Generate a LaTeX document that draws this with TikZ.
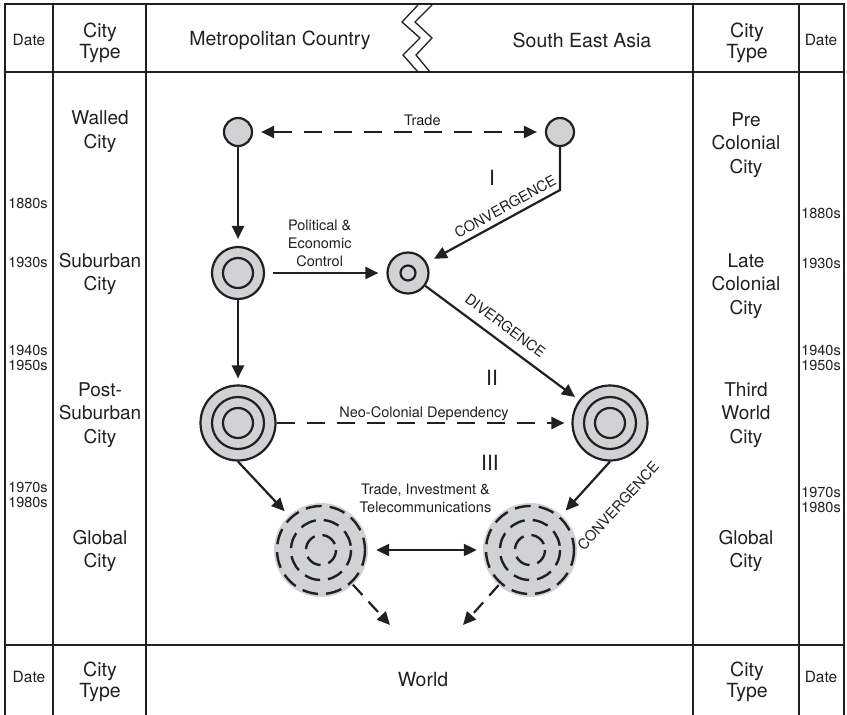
\documentclass[tikz,border=0pt]{standalone}
\usepackage{fontspec}
\setmainfont{TeX Gyre Heros}
\usetikzlibrary{positioning,arrows.meta}
\definecolor{ink}{RGB}{35,31,32}
\definecolor{cityfill}{RGB}{209,210,212}

\begin{document}
\begin{tikzpicture}[x=1pt, y=-1pt,
  >={Triangle[length=13pt,width=12pt]},
  rule/.style={draw=ink, line width=2.6pt},
  hdr/.style={font=\fontsize{19.5}{21}\selectfont, align=center, text=ink, inner sep=0pt},
  ctype/.style={font=\fontsize{19}{23.5}\selectfont, align=center, text=ink, inner sep=0pt},
  yr/.style={font=\fontsize{14.5}{15}\selectfont, align=center, text=ink, inner sep=0pt},
  lbl/.style={font=\fontsize{14.5}{18}\selectfont, align=center, text=ink, inner sep=0pt},
  caps/.style={font=\fontsize{14.5}{14.5}\selectfont, text=ink, inner sep=0pt},
  era/.style={font=\fontsize{21}{21}\selectfont, text=ink, inner sep=0pt},
  city/.style={circle, draw=ink, fill=cityfill, line width=2.2pt, inner sep=0pt},
  globe/.style={circle, fill=cityfill, minimum size=94pt, inner sep=0pt},
  ring/.style={draw=ink, line width=2.2pt},
  dring/.style={draw=ink, line width=2.4pt, dash pattern=on 16pt off 8pt},
  link/.style={->, draw=ink, line width=2.2pt},
  flow/.style={dash pattern=on 18pt off 12pt}
  ]
  \fill[white] (0,0) rectangle (847,715);
  \useasboundingbox (0,0) rectangle (847,715);

  % Table frame
  \draw[rule] (5,715) -- (5,4) -- (844,4) -- (844,715);
  \foreach \x in {53,146,693,799}
    \draw[rule] (\x,4) -- (\x,715);
  \draw[rule] (5,72) -- (844,72);
  \draw[rule] (5,645) -- (844,645);

  % break between the two regions
  \draw[ink, line width=1.3pt] (418,5) -- (402,22) -- (420,38) -- (403,55) -- (418,72);
  \draw[ink, line width=1.3pt] (432,5) -- (415,22) -- (432,38) -- (416,55) -- (430,72);

  % Header row
  \node[yr, font=\fontsize{15.5}{16}\selectfont] (dateTL) at (29,40) {Date};
  \node[hdr] (typeTL) at (100,42.5) {City\\Type};
  \node[hdr] (metro) at (280,40) {Metropolitan Country};
  \node[hdr] (sea) at (582,40) {South East Asia};
  \node[hdr] (typeTR) at (747,42.5) {City\\Type};
  \node[yr, font=\fontsize{15.5}{16}\selectfont] (dateTR) at (821,40) {Date};

  % Footer row
  \node[yr, font=\fontsize{15.5}{16}\selectfont] (dateBL) at (29,677) {Date};
  \node[hdr] (typeBL) at (100,681.5) {City\\Type};
  \node[hdr] (world) at (423,680) {World};
  \node[hdr] (typeBR) at (747,681.5) {City\\Type};
  \node[yr, font=\fontsize{15.5}{16}\selectfont] (dateBR) at (821,677) {Date};

  % City types, metropolitan side
  \node[ctype] (tWalled) at (100,131.5) {Walled\\City};
  \node[ctype] (tSuburb) at (100,274) {Suburban\\City};
  \node[ctype] (tPostSub) at (100,415) {Post-\\Suburban\\City};
  \node[ctype] (tGlobL) at (100,551) {Global\\City};

  % City types, south east asia side
  \node[ctype] (tPreCol) at (746,145) {Pre\\Colonial\\City};
  \node[ctype] (tLateCol) at (746,286) {Late\\Colonial\\City};
  \node[ctype] (tThird) at (746,415) {Third\\World\\City};
  \node[ctype] (tGlobR) at (746,551) {Global\\City};

  % Dates
  \node[yr] (yL1) at (28,203) {1880s};
  \node[yr] (yL2) at (28,262) {1930s};
  \node[yr] (yL3) at (28,357.5) {1940s\\1950s};
  \node[yr] (yL4) at (28,495) {1970s\\1980s};
  \node[yr] (yR1) at (821,213) {1880s};
  \node[yr] (yR2) at (821,263) {1930s};
  \node[yr] (yR3) at (821,357.5) {1940s\\1950s};
  \node[yr] (yR4) at (821,500) {1970s\\1980s};

  % Cities
  \node[city, minimum size=28pt] (walled) at (238,132) {};
  \node[city, minimum size=28pt] (precol) at (560,132) {};
  \node[city, minimum size=52pt] (suburb) at (238,273) {};
  \node[city, minimum size=41pt] (latecol) at (408,273) {};
  \node[city, minimum size=75pt] (postsub) at (238,423) {};
  \node[city, minimum size=75pt] (thirdw) at (610,423) {};
  \node[globe] (globl) at (321,550) {};
  \node[globe] (globr) at (530,550) {};

  \draw[ring] (suburb.center) circle[radius=15];
  \draw[ring] (latecol.center) circle[radius=7.5];
  \foreach \c in {postsub,thirdw} {
    \draw[ring] (\c.center) circle[radius=26];
    \draw[ring] (\c.center) circle[radius=15];
  }
  \foreach \c in {globl,globr}
    \foreach \r in {44,30,15}
      \draw[dring] (\c.center) circle[radius=\r];

  % Stages
  \node[era] (stageI) at (492,178) {I};
  \node[era] (stageII) at (492,378) {II};
  \node[era] (stageIII) at (490,463) {III};

  % Links
  \draw[link, flow, <->, shorten <=8pt, shorten >=8pt] (walled) -- node[lbl, pos=0.58, above=5pt] {Trade} (precol);
  \draw[link, shorten >=7pt] (walled) -- (suburb);
  \draw[link, shorten <=8pt, shorten >=8pt] (suburb) -- node[lbl, pos=0.45, above=5pt] {Political \&\\Economic\\Control} (latecol);
  \coordinate (bendI) at (560,190);
  \draw[link, shorten >=8pt] (precol) -- (bendI) -- node[caps, sloped, pos=0.37, above=5pt] {CONVERGENCE} (latecol);
  \draw[link, shorten >=5pt] (latecol) -- node[caps, sloped, pos=0.46, above=9pt] {DIVERGENCE} (thirdw);
  \draw[link, shorten >=6pt] (suburb) -- (postsub);
  \draw[link, flow, shorten >=7pt] (postsub) -- node[lbl, above=1pt] {Neo-Colonial Dependency} (thirdw);
  \draw[link, shorten >=6pt] (postsub.south) -- (globl);
  \draw[link, shorten >=6pt] (thirdw.south) -- node[caps, sloped, pos=0.38, below=29pt] {CONVERGENCE} (globr);
  \draw[link, <->, shorten <=8pt, shorten >=6pt] (globl) -- node[lbl, above=36pt] {Trade, Investment \&\\Telecommunications} (globr);

  % Out to the world
  \coordinate (worldL) at (390,625);
  \coordinate (worldR) at (463,625);
  \draw[link, dash pattern=on 14pt off 9pt] (globl) -- (worldL);
  \draw[link, dash pattern=on 14pt off 9pt] (globr) -- (worldR);
\end{tikzpicture}
\end{document}
